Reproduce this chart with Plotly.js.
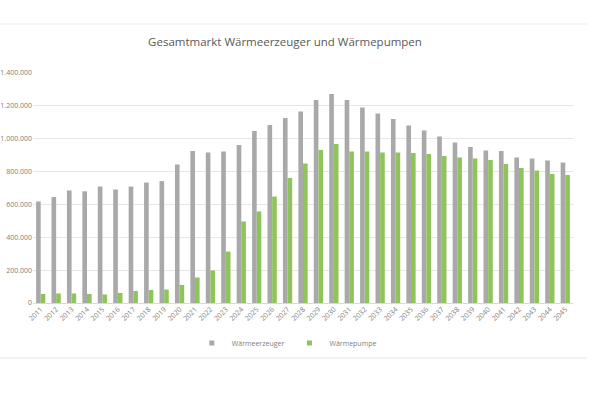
<!DOCTYPE html>
<html>
<head>
<meta charset="utf-8">
<script src="https://cdn.plot.ly/plotly-3.0.1.min.js"></script>
<style>html,body{margin:0;padding:0;background:#fff;}#chart{width:600px;height:402px;}</style>
</head>
<body>
<div id="chart"></div>
<script>
const years = ["2011","2012","2013","2014","2015","2016","2017","2018","2019","2020","2021","2022","2023","2024","2025","2026","2027","2028","2029","2030","2031","2032","2033","2034","2035","2036","2037","2038","2039","2040","2041","2042","2043","2044","2045"];
const waermeerzeuger = [618000,645000,685000,680000,709000,691000,709000,733000,742000,843000,925000,916000,922000,962000,1047000,1083000,1126000,1166000,1236000,1272000,1236000,1190000,1153000,1120000,1080000,1050000,1013000,977000,950000,928000,925000,886000,880000,867000,855000];
const waermepumpe = [55000,58000,58000,55000,52000,61000,73000,79000,82000,110000,155000,198000,313000,496000,557000,648000,761000,849000,931000,968000,922000,922000,916000,916000,913000,907000,895000,886000,879000,870000,846000,822000,806000,785000,779000];
const yTicks = [0,200000,400000,600000,800000,1000000,1200000,1400000];
const seriesNames = ['Wärmeerzeuger','Wärmepumpe'];
const seriesColors = ['#a9a9a9','#8fc45a'];

const traces = [
  {type:'bar', name:seriesNames[0], x:years, y:waermeerzeuger, marker:{color:seriesColors[0]}, showlegend:false},
  {type:'bar', name:seriesNames[1], x:years, y:waermepumpe, marker:{color:seriesColors[1]}, showlegend:false},
  // legend entries with small square swatches
  {type:'scatter', mode:'markers', name:seriesNames[0], x:[null], y:[null], marker:{symbol:'square', size:5, color:seriesColors[0]}, hoverinfo:'skip'},
  {type:'scatter', mode:'markers', name:seriesNames[1], x:[null], y:[null], marker:{symbol:'square', size:5, color:seriesColors[1]}, hoverinfo:'skip'}
];

const layout = {
  width:600, height:402,
  paper_bgcolor:'#ffffff', plot_bgcolor:'#ffffff',
  separators:',.',
  margin:{l:33, r:27, t:73, b:99, autoexpand:false},
  font:{family:'"Open Sans", "Liberation Sans", sans-serif', color:'#808080'},
  title:{text:'Gesamtmarkt Wärmeerzeuger und Wärmepumpen', xref:'container', yref:'container', x:0.475, xanchor:'center', y:0.896, yanchor:'middle', font:{size:11.5, color:'#595959', family:'"Open Sans", "Liberation Sans", sans-serif'}},
  barmode:'group', bargap:0.4, bargroupgap:0,
  xaxis:{type:'category', tickangle:-45, tickfont:{size:7, color:'#808080'}, showgrid:false, zeroline:false, showline:false, ticks:'', automargin:false},
  yaxis:{range:[0,1400000], tickvals:yTicks, tickformat:',d', tickfont:{size:7, color:'#808080'}, gridcolor:'#e6e6e6', gridwidth:1, zeroline:true, zerolinecolor:'#d9d9d9', showline:false, ticks:'', automargin:false},
  legend:{orientation:'h', xref:'container', yref:'container', x:0.478, xanchor:'center', y:0.147, yanchor:'middle', font:{size:7, color:'#808080'}, itemwidth:30, traceorder:'normal'}
};
// frame lines (in paper coords): plot area spans px x 33..573, y 73..303
const px = v => (v-33)/540, py = v => (303-v)/230;
layout.shapes = [
  {type:'line', xref:'paper', yref:'paper', x0:px(0), x1:px(587), y0:py(24), y1:py(24), line:{color:'#ececec', width:1}},
  {type:'line', xref:'paper', yref:'paper', x0:px(0), x1:px(587), y0:py(358), y1:py(358), line:{color:'#e4e4e4', width:1}}
];

Plotly.newPlot('chart', traces, layout, {displayModeBar:false, staticPlot:true});
</script>
</body>
</html>
